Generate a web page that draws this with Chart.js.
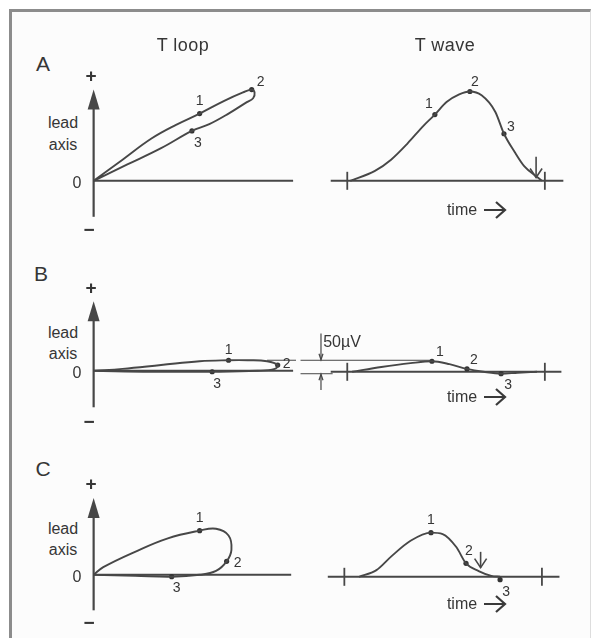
<!DOCTYPE html>
<html>
<head>
<meta charset="utf-8">
<script src="https://cdn.jsdelivr.net/npm/chart.js@4.4.0/dist/chart.umd.min.js"></script>
<style>
  body { margin: 0; width: 592px; height: 638px; overflow: hidden; background: #fff;
         font-family: "Liberation Sans", Arial, sans-serif; color: #363636; position: relative; }
  #frame { position: absolute; left: 9px; top: 9px; width: 578px; height: 660px;
           border-left: 3px solid #8c8c8c; border-top: 3px solid #8c8c8c; border-right: 1px solid #ddd;
           background: #fcfcfc; }
  .box { position: absolute; }
  .t { position: absolute; transform: translate(-50%, -50%); white-space: nowrap; line-height: 1; }
  .head { font-size: 18px; letter-spacing: 0.5px; }
  .panel { font-size: 21px; }
  .lab { font-size: 16px; }
  .sign { font-size: 19px; font-weight: bold; }
  .arr { position: absolute; }
</style>
</head>
<body>
<div id="frame"></div>

<div class="box" style="left:80px;top:52px"><canvas id="loopA" width="220" height="200"></canvas></div>
<div class="box" style="left:280px;top:52px"><canvas id="waveA" width="300" height="200"></canvas></div>
<div class="box" style="left:80px;top:242px"><canvas id="loopB" width="220" height="200"></canvas></div>
<div class="box" style="left:280px;top:243px"><canvas id="waveB" width="300" height="200"></canvas></div>
<div class="box" style="left:80px;top:446px"><canvas id="loopC" width="220" height="200"></canvas></div>
<div class="box" style="left:280px;top:448px"><canvas id="waveC" width="300" height="200"></canvas></div>

<div class="t head" style="left:183px;top:45px">T loop</div>
<div class="t head" style="left:445px;top:45px">T wave</div>

<div class="t panel" style="left:43px;top:63px">A</div>
<div class="t panel" style="left:41px;top:273px">B</div>
<div class="t panel" style="left:43px;top:468px">C</div>

<div class="t sign" style="left:91px;top:75px">+</div>
<div class="t sign" style="left:91px;top:287px">+</div>
<div class="t sign" style="left:91px;top:483px">+</div>
<div class="t sign" style="left:89px;top:229px">−</div>
<div class="t sign" style="left:89px;top:421px">−</div>
<div class="t sign" style="left:89px;top:622px">−</div>

<div class="t lab" style="left:63px;top:123px">lead</div>
<div class="t lab" style="left:63px;top:145px">axis</div>
<div class="t lab" style="left:63px;top:333px">lead</div>
<div class="t lab" style="left:63px;top:354px">axis</div>
<div class="t lab" style="left:63px;top:529px">lead</div>
<div class="t lab" style="left:63px;top:550px">axis</div>

<div class="t lab" style="left:77px;top:183px">0</div>
<div class="t lab" style="left:77px;top:373px">0</div>
<div class="t lab" style="left:77px;top:577px">0</div>

<div class="t lab" style="left:462px;top:210px">time</div>
<svg class="arr" style="left:483px;top:201px" width="24" height="18"><path d="M1 9 H21 M13 1 L22 9 L13 17" fill="none" stroke="#3a3a3a" stroke-width="2.2"/></svg>
<div class="t lab" style="left:462px;top:397px">time</div>
<svg class="arr" style="left:483px;top:388px" width="24" height="18"><path d="M1 9 H21 M13 1 L22 9 L13 17" fill="none" stroke="#3a3a3a" stroke-width="2.2"/></svg>
<div class="t lab" style="left:462px;top:604px">time</div>
<svg class="arr" style="left:483px;top:595px" width="24" height="18"><path d="M1 9 H21 M13 1 L22 9 L13 17" fill="none" stroke="#3a3a3a" stroke-width="2.2"/></svg>

<div class="t lab" style="left:342px;top:342px">50µV</div>

<script>
// Vektorschleifen (x, y in µV) und T-Wellen (t in ms, y in µV)
const loopAX = [0, 120, 240, 340, 440, 540, 620, 656, 668, 662, 636, 560, 480, 408, 280, 140, 0];
const loopAY = [0, 88, 176, 232, 280, 332, 368, 380, 368, 344, 328, 280, 236, 208, 136, 68, 0];
const loopAMarkX = [440, 656, 408];
const loopAMarkY = [280, 380, 208];

const waveAT = [56, 106, 140, 174, 206, 230, 254, 280, 302, 326, 354, 372, 394, 414, 440, 450];
const waveAY = [0, 40, 88, 156, 228, 276, 328, 360, 372, 356, 288, 196, 120, 60, 16, 0];
const waveAMarkT = [230, 302, 372];
const waveAMarkY = [276, 372, 196];

const loopBX = [0, 120, 280, 440, 560, 640, 720, 764, 752, 680, 492, 240, 0];
const loopBY = [0, 8, 24, 40, 44, 44, 40, 24, 8, 0, -4, -4, 0];
const loopBMarkX = [560, 764, 492];
const loopBMarkY = [44, 24, -4];

const waveBT = [60, 120, 180, 224, 260, 296, 330, 366, 400, 440];
const waveBY = [0, 20, 36, 44, 32, 12, 0, -8, -4, 0];
const waveBMarkT = [224, 296, 366];
const waveBMarkY = [44, 12, -8];

const loopCX = [0, 40, 172, 308, 440, 508, 560, 572, 552, 508, 440, 324, 172, 0];
const loopCY = [0, 32, 96, 152, 184, 192, 164, 104, 56, 16, 0, -8, -4, 0];
const loopCMarkX = [440, 552, 324];
const loopCMarkY = [184, 56, -8];

const waveCT = [74, 110, 140, 180, 222, 246, 274, 294, 320, 346, 364];
const waveCY = [0, 28, 84, 150, 184, 178, 124, 56, 24, 4, 0];
const waveCMarkT = [222, 294, 364];
const waveCMarkY = [184, 56, -12];

const markNames = ['1', '2', '3'];
const waveTicksA = [50, 456];
const waveTicksB = [50, 456];
const waveTicksC = [44, 450];

const INK = '#474747';

const pts = (xs, ys) => xs.map((v, i) => ({ x: v, y: ys[i] }));

// Achsen, Pfeile und Nummern
const decor = {
  id: 'decor',
  beforeDatasetsDraw(chart, args, o) {
    const { ctx, scales: { x, y } } = chart;
    const X = v => x.getPixelForValue(v);
    const Y = v => y.getPixelForValue(v);
    ctx.save();
    ctx.strokeStyle = INK;
    ctx.fillStyle = INK;

    if (o.axisTop !== undefined) {
      const tip = Y(o.axisTop);
      ctx.lineWidth = 2.2;
      ctx.beginPath();
      ctx.moveTo(X(0), Y(o.axisBottom));
      ctx.lineTo(X(0), tip + 16);
      ctx.stroke();
      ctx.beginPath();
      ctx.moveTo(X(0), tip);
      ctx.lineTo(X(0) - 6, tip + 20);
      ctx.lineTo(X(0) + 6, tip + 20);
      ctx.closePath();
      ctx.fill();
      ctx.lineWidth = 2;
      ctx.beginPath();
      ctx.moveTo(X(0), Y(0));
      ctx.lineTo(X(o.xEnd), Y(0));
      ctx.stroke();
    }

    if (o.base) {
      ctx.lineWidth = 2;
      ctx.beginPath();
      ctx.moveTo(X(o.base[0]), Y(0));
      ctx.lineTo(X(o.base[1]), Y(0));
      ctx.stroke();
      ctx.lineWidth = 1.8;
      (o.ticks || []).forEach(t => {
        ctx.beginPath();
        ctx.moveTo(X(t), Y(0) - 9);
        ctx.lineTo(X(t), Y(0) + 9);
        ctx.stroke();
      });
    }

    ctx.lineWidth = 1;
    (o.refLines || []).forEach(r => {
      ctx.beginPath();
      ctx.moveTo(X(r[0]), Y(r[2]));
      ctx.lineTo(X(r[1]), Y(r[2]));
      ctx.stroke();
    });

    (o.arrows || []).forEach(a => {
      const x0 = X(a.x), y1 = Y(a.from), y2 = Y(a.to);
      const dir = y2 > y1 ? 1 : -1;
      ctx.lineWidth = a.w || 1.6;
      ctx.beginPath();
      ctx.moveTo(x0, y1);
      ctx.lineTo(x0, y2);
      ctx.stroke();
      ctx.beginPath();
      ctx.moveTo(x0 - a.hw, y2 - dir * a.hh);
      ctx.lineTo(x0, y2);
      ctx.lineTo(x0 + a.hw, y2 - dir * a.hh);
      ctx.stroke();
    });
    ctx.restore();
  },
  afterDatasetsDraw(chart, args, o) {
    if (!o.offsets) return;
    const { ctx, scales: { x, y } } = chart;
    const marks = chart.data.datasets[1].data;
    ctx.save();
    ctx.fillStyle = '#363636';
    ctx.font = '14px "Liberation Sans", Arial, sans-serif';
    ctx.textAlign = 'center';
    ctx.textBaseline = 'middle';
    marks.forEach((m, i) => {
      const off = o.offsets[i];
      ctx.fillText(markNames[i], x.getPixelForValue(m.x) + off[0], y.getPixelForValue(m.y) + off[1]);
    });
    ctx.restore();
  }
};

function panel(id, curve, marks, xr, yr, deco, monotone) {
  return new Chart(document.getElementById(id), {
    type: 'scatter',
    data: {
      datasets: [
        { data: curve, showLine: true, tension: 0.4, borderColor: INK, borderWidth: 1.9,
          cubicInterpolationMode: monotone ? 'monotone' : 'default',
          pointRadius: 0, clip: false },
        { data: marks, showLine: false, pointRadius: 2.6, backgroundColor: '#333',
          borderWidth: 0, clip: false }
      ]
    },
    options: {
      responsive: false,
      animation: false,
      events: [],
      devicePixelRatio: 1,
      layout: { padding: 0 },
      plugins: { legend: { display: false }, tooltip: { enabled: false }, decor: deco },
      scales: {
        x: { type: 'linear', display: false, min: xr[0], max: xr[1] },
        y: { type: 'linear', display: false, min: yr[0], max: yr[1] }
      }
    },
    plugins: [decor]
  });
}

const loopRange = [-40, 840];
const waveRange = [-80, 520];
const yRange = [-280, 520];

panel('loopA', pts(loopAX, loopAY), pts(loopAMarkX, loopAMarkY), loopRange, yRange, {
  axisTop: 380, axisBottom: -150, xEnd: 828,
  offsets: [[0, -12], [9, -7], [6, 12]]
});
panel('waveA', pts(waveAT, waveAY), pts(waveAMarkT, waveAMarkY), waveRange, yRange, {
  base: [16, 494], ticks: waveTicksA,
  arrows: [{ x: 438, from: 100, to: 14, hw: 6, hh: 9 }],
  offsets: [[-6, -10], [5, -9], [7, -7]]
}, true);

panel('loopB', pts(loopBX, loopBY), pts(loopBMarkX, loopBMarkY), loopRange, yRange, {
  axisTop: 290, axisBottom: -152, xEnd: 828,
  refLines: [[720, 840, 44]],
  offsets: [[0, -10], [9, -1], [5, 12]]
});
panel('waveB', pts(waveBT, waveBY), pts(waveBMarkT, waveBMarkY), waveRange, yRange, {
  base: [16, 490], ticks: waveTicksB,
  refLines: [[-46, 224, 48], [-46, 20, -8]],
  arrows: [
    { x: -4, from: 160, to: 50, hw: 2, hh: 6, w: 1.2 },
    { x: -4, from: -76, to: -10, hw: 2, hh: 6, w: 1.2 }
  ],
  offsets: [[8, -9], [7, -9], [7, 11]]
}, true);

panel('loopC', pts(loopCX, loopCY), pts(loopCMarkX, loopCMarkY), loopRange, yRange, {
  axisTop: 320, axisBottom: -148, xEnd: 820,
  offsets: [[0, -12], [11, 2], [5, 11]]
});
panel('waveC', pts(waveCT, waveCY), pts(waveCMarkT, waveCMarkY), waveRange, yRange, {
  base: [10, 486], ticks: waveTicksC,
  arrows: [{ x: 324, from: 104, to: 38, hw: 6, hh: 9 }],
  offsets: [[0, -12], [3, -12], [6, 12]]
}, true);
</script>
</body>
</html>
